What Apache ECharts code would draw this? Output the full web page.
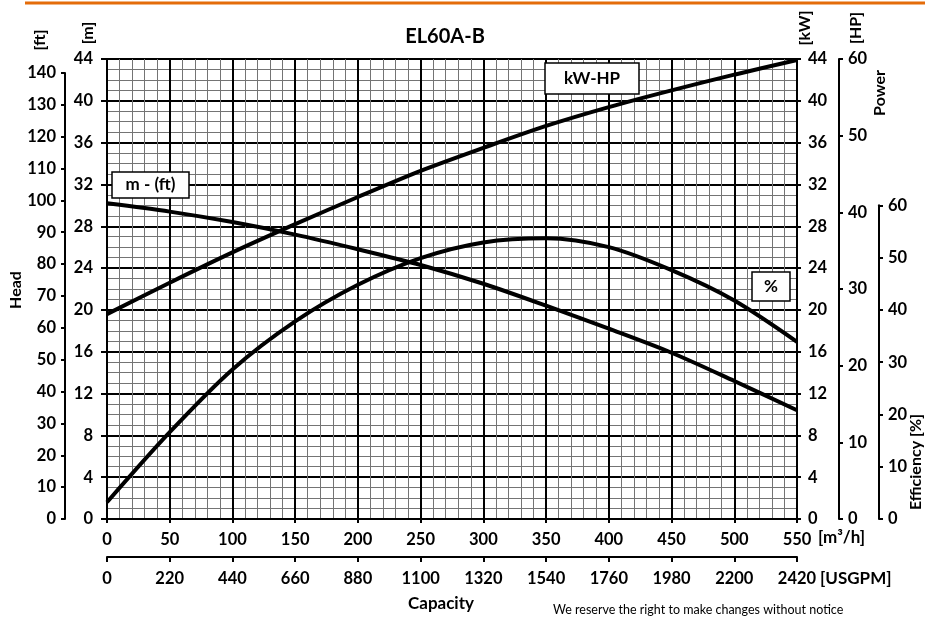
<!DOCTYPE html>
<html>
<head>
<meta charset="utf-8">
<script src="https://cdn.jsdelivr.net/npm/echarts@6/dist/echarts.min.js"></script>
<style>
html,body{margin:0;padding:0;background:#fff;}
#chart{width:930px;height:619px;}
</style>
</head>
<body>
<div id="chart"></div>
<script>
// ---- data ----
const flowM3h = [0, 50, 100, 150, 200, 250, 300, 350, 400, 450, 500, 550];
const headM = [30.2, 29.4, 28.4, 27.2, 25.8, 24.3, 22.5, 20.4, 18.2, 15.9, 13.2, 10.4];
const powerKW = [19.6, 22.6, 25.5, 28.2, 30.8, 33.3, 35.5, 37.6, 39.4, 41.0, 42.5, 43.9];
const efficiencyPct = [3.2, 16.6, 28.6, 37.8, 44.8, 49.9, 52.9, 53.7, 52.0, 47.6, 41.8, 33.9];

const titleText = 'EL60A-B';
const headLabel = 'm - (ft)';
const powerLabel = 'kW-HP';
const effLabel = '%';

// axis ranges
const mMax = 44, mStep = 4;
const qMax = 550, qStep = 50;
const usgpmMax = 2420, usgpmStep = 220;
const hpMax = 60, hpStep = 10;
const effMax = 60, effStep = 10;
const ftMax = 140, ftStep = 10;
const M_PER_FT = 0.3048;
const M_PER_PCT = 0.5;   // efficiency scale: 60 % on the 30 m line

// ---- layout ----
const W = 930, H = 619;
const PL = 107, PR = 797, PT = 59, PB = 519;
const pxPerM = (PB - PT) / mMax;
const effTop = PB - effMax * M_PER_PCT * pxPerM;
const ftTop = PB - ftMax * M_PER_FT * pxPerM;

const FONT = 'Lato';
const lblStyle = { color: '#000', fontFamily: FONT, fontWeight: 'bold', fontSize: 16.5,
                   formatter: v => String(v) };
const blackLine = { show: true, onZero: false, lineStyle: { color: '#000', width: 2 } };
const tick = len => ({ show: true, length: len, lineStyle: { color: '#000', width: 2 } });
const minorGrid = { show: true, lineStyle: { color: '#747474', width: 1 } };

const chart = echarts.init(document.getElementById('chart'), null, { renderer: 'canvas' });

function pairs(ys) { return flowM3h.map((q, i) => [q, ys[i]]); }

function textEl(x, y, text, opts) {
  return Object.assign({
    type: 'text', x: x, y: y, z: 100,
    style: Object.assign({
      text: text, fill: '#000', font: 'bold 16px ' + FONT,
      textAlign: 'center', textVerticalAlign: 'middle'
    }, (opts && opts.style) || {})
  }, (opts && opts.el) || {});
}
function boxEl(x, y, w, h, text) {
  return [
    { type: 'rect', z: 100, shape: { x: x, y: y, width: w, height: h },
      style: { fill: '#fff', stroke: '#000', lineWidth: 1.5 } },
    { type: 'text', z: 101, x: x + w / 2, y: y + h / 2,
      style: { text: text, fill: '#000', font: 'bold 17px ' + FONT,
               textAlign: 'center', textVerticalAlign: 'middle' } }
  ];
}

const curve = { smooth: 0.3, symbol: 'none', z: 10,
                lineStyle: { color: '#000', width: 4 } };

const option = {
  animation: false,
  backgroundColor: '#fff',
  grid: [
    { left: PL, right: W - PR, top: PT, bottom: H - PB },
    { left: PL, right: W - PR, top: effTop, bottom: H - PB },
    { left: PL, right: W - PR, top: ftTop, bottom: H - PB }
  ],
  xAxis: [
    { type: 'value', gridIndex: 0, min: 0, max: qMax, interval: qStep, position: 'bottom',
      axisLine: blackLine, axisTick: tick(4),
      axisLabel: Object.assign({ margin: 12 }, lblStyle),
      splitLine: { show: true, lineStyle: { color: '#000', width: 2 } },
      minorTick: { show: false, splitNumber: 5 },
      minorSplitLine: minorGrid },
    { type: 'value', gridIndex: 0, min: 0, max: usgpmMax, interval: usgpmStep, position: 'bottom', offset: 38,
      axisLine: blackLine, axisTick: tick(5),
      axisLabel: Object.assign({ margin: 13 }, lblStyle),
      splitLine: { show: false } },
    { type: 'value', gridIndex: 1, min: 0, max: qMax, show: false },
    { type: 'value', gridIndex: 2, min: 0, max: qMax, show: false }
  ],
  yAxis: [
    { type: 'value', gridIndex: 0, min: 0, max: mMax, interval: mStep, position: 'left',
      axisLine: blackLine, axisTick: tick(6),
      axisLabel: Object.assign({ margin: 14 }, lblStyle),
      splitLine: { show: true, lineStyle: { color: '#000', width: 2 } },
      minorTick: { show: false, splitNumber: 4 },
      minorSplitLine: minorGrid },
    { type: 'value', gridIndex: 0, min: 0, max: mMax, interval: mStep, position: 'right',
      axisLine: blackLine, axisTick: tick(4),
      axisLabel: Object.assign({ margin: 11 }, lblStyle),
      splitLine: { show: false } },
    { type: 'value', gridIndex: 0, min: 0, max: hpMax, interval: hpStep, position: 'right', offset: 42,
      axisLine: blackLine, axisTick: tick(4),
      axisLabel: Object.assign({ margin: 9 }, lblStyle),
      splitLine: { show: false } },
    { type: 'value', gridIndex: 1, min: 0, max: effMax, interval: effStep, position: 'right', offset: 82,
      axisLine: blackLine, axisTick: tick(4),
      axisLabel: Object.assign({ margin: 9 }, lblStyle),
      splitLine: { show: false } },
    { type: 'value', gridIndex: 2, min: 0, max: ftMax, interval: ftStep, position: 'left', offset: 42,
      axisLine: blackLine, axisTick: tick(4),
      axisLabel: Object.assign({ margin: 9 }, lblStyle),
      splitLine: { show: false } }
  ],
  series: [
    Object.assign({ name: 'Head', type: 'line', xAxisIndex: 0, yAxisIndex: 0, data: pairs(headM) }, curve),
    Object.assign({ name: 'Power', type: 'line', xAxisIndex: 0, yAxisIndex: 1, data: pairs(powerKW) }, curve),
    Object.assign({ name: 'Efficiency', type: 'line', xAxisIndex: 2, yAxisIndex: 3, data: pairs(efficiencyPct) }, curve)
  ],
  graphic: [
    { type: 'line', z: 100, shape: { x1: 25, y1: 3, x2: 925, y2: 3 }, style: { stroke: '#E46C0A', lineWidth: 3 } },
    textEl(445, 37, titleText, { style: { font: 'bold 20px ' + FONT } }),
    textEl(40, 40, '[ft]', { el: { rotation: Math.PI / 2 } }),
    textEl(88, 33, '[m]', { el: { rotation: Math.PI / 2 } }),
    textEl(805, 28, '[kW]', { el: { rotation: Math.PI / 2 } }),
    textEl(856, 28, '[HP]', { el: { rotation: Math.PI / 2 } }),
    textEl(16, 290, 'Head', { el: { rotation: Math.PI / 2 } }),
    textEl(880, 93, 'Power', { el: { rotation: Math.PI / 2 } }),
    textEl(916, 462, 'Efficiency [%]', { el: { rotation: Math.PI / 2 } }),
    textEl(818, 538, '[m³/h]', { style: { textAlign: 'left', font: 'bold 17px ' + FONT } }),
    textEl(820, 579, '[USGPM]', { style: { textAlign: 'left', font: 'bold 17px ' + FONT } }),
    textEl(441, 604, 'Capacity', { style: { font: 'bold 17px ' + FONT } }),
    textEl(553, 610, 'We reserve the right to make changes without notice',
      { style: { textAlign: 'left', font: '12.5px ' + FONT } })
  ].concat(boxEl(112, 172, 77, 26, headLabel), boxEl(545, 63, 94, 31, powerLabel), boxEl(752, 272, 38, 29, effLabel))
};
chart.setOption(option);
</script>
</body>
</html>
